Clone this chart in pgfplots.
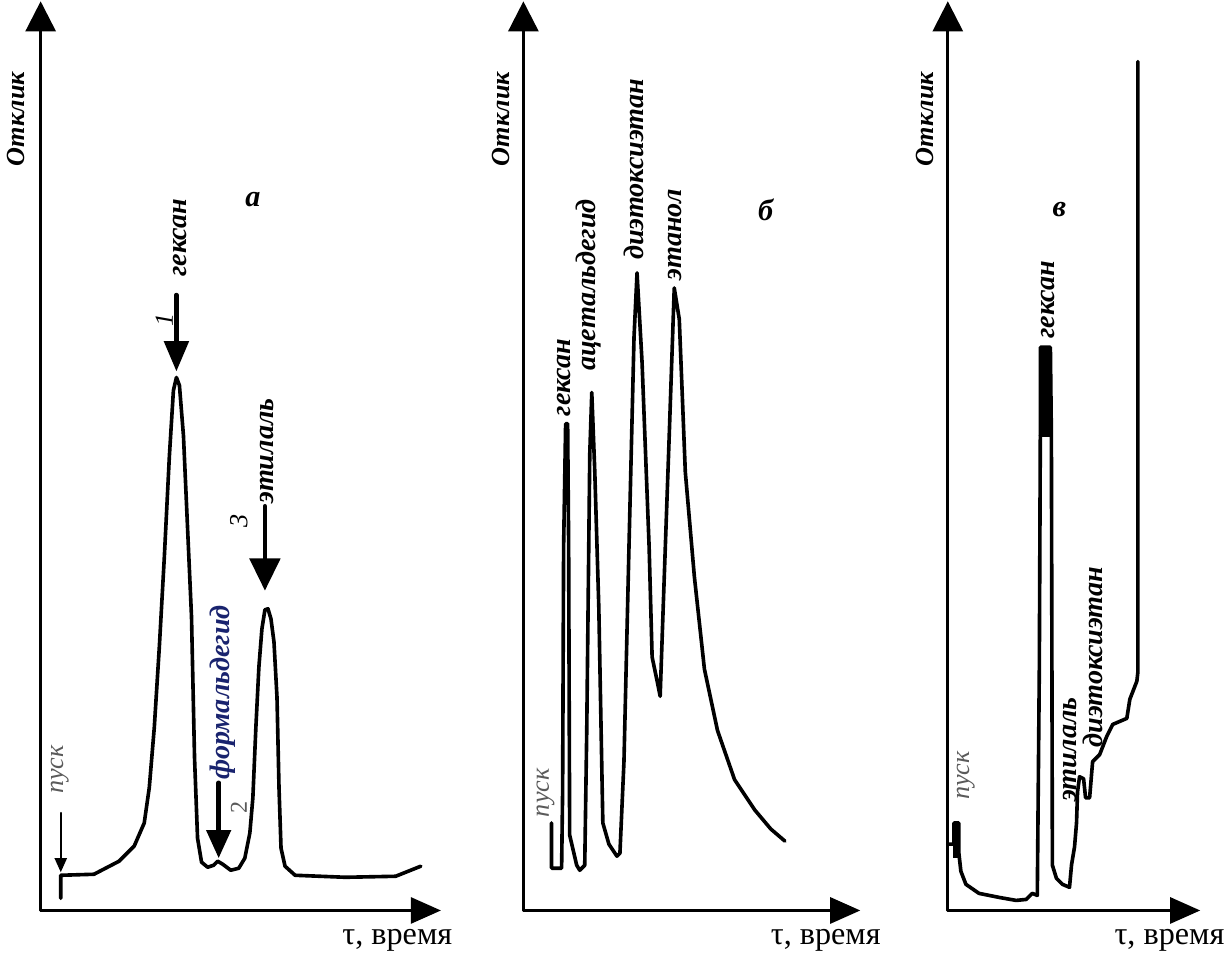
\documentclass[border=0pt]{standalone}
\usepackage{fontspec}
\setmainfont{Liberation Serif}
\usepackage{pgfplots}
\pgfplotsset{compat=1.18}
\usetikzlibrary{arrows.meta}
\definecolor{navytxt}{RGB}{25,35,110}
\definecolor{greytxt}{RGB}{90,90,90}

\begin{document}
\begin{tikzpicture}
\begin{axis}[
  x=0.5pt, y=0.5pt, y dir=reverse,
  xmin=0, xmax=1231, ymin=0, ymax=958,
  hide axis, clip=false,
  every axis plot/.append style={line join=round, line cap=round},
]
% ---------- axes (pixel coordinates of the reference) ----------
\addplot[black, line width=1.3pt, -{Triangle[length=15pt,width=15pt]}] coordinates {(47,912) (47,8)};
\addplot[black, line width=1.3pt, -{Triangle[length=15pt,width=13pt]}] coordinates {(47,912) (445,912)};
\addplot[black, line width=1.3pt, -{Triangle[length=15pt,width=15pt]}] coordinates {(527,912) (527,8)};
\addplot[black, line width=1.3pt, -{Triangle[length=15pt,width=13pt]}] coordinates {(527,912) (862,912)};
\addplot[black, line width=1.3pt, -{Triangle[length=15pt,width=15pt]}] coordinates {(949,912) (949,8)};
\addplot[black, line width=1.3pt, -{Triangle[length=15pt,width=13pt]}] coordinates {(949,912) (1200,912)};

% ---------- panel a ----------
\addplot[black, line width=1.8pt] coordinates {
(67,900) (67,877) (100,876) (125,863) (140,848) (150,825) (155,790) (160,730)
(165,650) (170,560) (175,460) (179,395) (182,382) (185,390) (189,440) (193,530)
(197,620) (200,760) (203,840) (207,864) (213,869) (219,867) (223,863) (228,866)
(236,872) (244,870) (250,860) (255,835) (258,800) (261,730) (264,670) (267,632)
(270,613) (273,612) (276,622) (279,645) (282,700) (284,790) (286,850) (290,868)
(300,877) (350,879) (400,878) (425,868)
};
% pointer arrows
\addplot[black, line width=1pt, -{Triangle[length=7pt,width=6pt]}] coordinates {(67,815) (67,874)};
\addplot[black, line width=2.2pt, -{Triangle[length=15pt,width=12pt]}] coordinates {(182,300) (182,376)};
\addplot[black, line width=2.2pt, -{Triangle[length=14pt,width=12pt]}] coordinates {(224,785) (224,860)};
\addplot[black, line width=2.2pt, -{Triangle[length=16pt,width=15pt]}] coordinates {(270,510) (270,594)};

\node[rotate=90, font=\fontsize{13}{16}\selectfont\bfseries\itshape] at (axis cs:22,125) {Отклик};
\node[font=\fontsize{15}{18}\selectfont\bfseries\itshape] at (axis cs:258,205) {а};
\node[rotate=90, font=\fontsize{14}{16}\selectfont\bfseries\itshape] at (axis cs:186,243) {гексан};
\node[rotate=90, font=\fontsize{13}{16}\selectfont\itshape] at (axis cs:170,325) {1};
\node[rotate=90, font=\fontsize{14}{16}\selectfont\bfseries\itshape] at (axis cs:272,455) {этилаль};
\node[rotate=90, font=\fontsize{13}{16}\selectfont\itshape] at (axis cs:244,525) {3};
\node[rotate=90, font=\fontsize{14}{16}\selectfont\bfseries\itshape, text=navytxt] at (axis cs:228,695) {формальдегид};
\node[rotate=90, font=\fontsize{12}{16}\selectfont, text=greytxt] at (axis cs:244,810) {2};
\node[rotate=90, font=\fontsize{13}{16}\selectfont\itshape, text=greytxt] at (axis cs:66,772) {пуск};
\node[anchor=west, font=\fontsize{16}{18}\selectfont] at (axis cs:340,942) {τ, время};

% ---------- panel b ----------
\addplot[black, line width=1.8pt] coordinates {
(555,825) (555,870) (565,870) (566,794) (567,550) (569,428) (571,428) (572,550)
(573,837) (580,867) (583,872) (588,867) (590,733) (593,458) (595,397) (598,476)
(602,611) (606,825) (612,846) (620,858) (623,855) (627,764) (632,550) (637,342)
(640,278) (645,367) (652,550) (655,660) (660,684) (663,699) (666,611) (672,440)
(677,293) (682,324) (688,476) (697,580) (707,672) (720,733) (737,782) (757,812)
(773,831) (787,843)
};
\node[rotate=90, font=\fontsize{13}{16}\selectfont\bfseries\itshape] at (axis cs:505,125) {Отклик};
\node[font=\fontsize{15}{18}\selectfont\bfseries\itshape] at (axis cs:768,215) {б};
\node[rotate=90, font=\fontsize{13}{16}\selectfont\itshape, text=greytxt] at (axis cs:549,795) {пуск};
\node[rotate=90, font=\fontsize{14}{16}\selectfont\bfseries\itshape] at (axis cs:567,382) {гексан};
\node[rotate=90, font=\fontsize{14}{16}\selectfont\bfseries\itshape] at (axis cs:592,290) {ацетальдегид};
\node[rotate=90, font=\fontsize{14}{16}\selectfont\bfseries\itshape] at (axis cs:637,175) {диэтоксиэтан};
\node[rotate=90, font=\fontsize{14}{16}\selectfont\bfseries\itshape] at (axis cs:678,240) {этанол};
\node[anchor=west, font=\fontsize{16}{18}\selectfont] at (axis cs:766,942) {τ, время};

% ---------- panel c ----------
\addplot[black, line width=1.8pt] coordinates {
(949,846) (955,846) (955,825) (960,825) (960,855) (962,873) (967,886) (980,895)
(1000,899) (1017,902) (1027,901) (1033,895) (1038,897) (1040,672) (1041,440)
(1041,352) (1051,352) (1052,440) (1053,867) (1057,880) (1063,886) (1070,889)
(1072,867) (1075,849) (1077,825) (1078,794) (1080,779) (1084,781) (1086,800)
(1090,800) (1093,764) (1100,757) (1107,739) (1113,727) (1127,721) (1130,702)
(1137,684) (1138,675) (1138,68)
};
\addplot[black, line width=5pt, line cap=butt] coordinates {(1046,352) (1046,440)};
\addplot[black, line width=1.6pt] coordinates {(1041,440) (1052,440)};
\addplot[black, line width=3pt, line cap=butt] coordinates {(957.5,825) (957.5,860)};
\node[rotate=90, font=\fontsize{13}{16}\selectfont\bfseries\itshape] at (axis cs:926,125) {Отклик};
\node[font=\fontsize{15}{18}\selectfont\bfseries\itshape] at (axis cs:1060,215) {в};
\node[rotate=90, font=\fontsize{13}{16}\selectfont\itshape, text=greytxt] at (axis cs:967,778) {пуск};
\node[rotate=90, font=\fontsize{14}{16}\selectfont\bfseries\itshape] at (axis cs:1049,305) {гексан};
\node[rotate=90, font=\fontsize{14}{16}\selectfont\bfseries\itshape] at (axis cs:1071,752) {этилаль};
\node[rotate=90, font=\fontsize{14}{16}\selectfont\bfseries\itshape] at (axis cs:1093,660) {диэтоксиэтан};
\node[anchor=east, font=\fontsize{16}{18}\selectfont] at (axis cs:1231,942) {τ, время};
\end{axis}
\end{tikzpicture}
\end{document}
